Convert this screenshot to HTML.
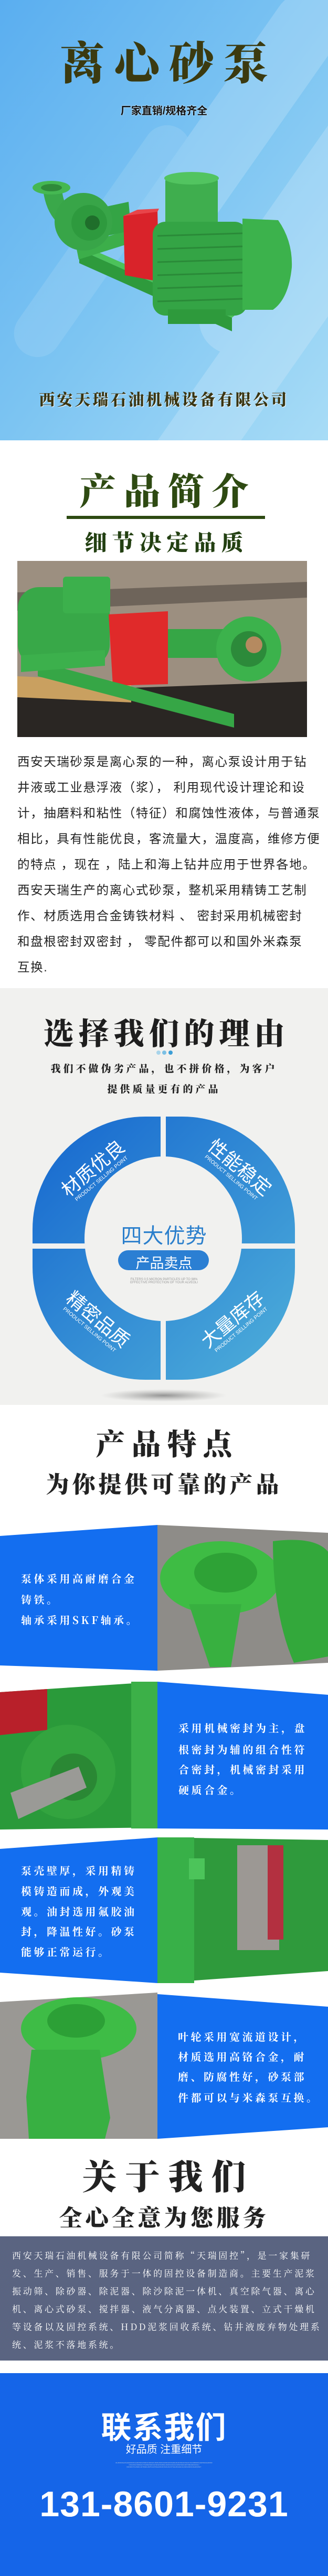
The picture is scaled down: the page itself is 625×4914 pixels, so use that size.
<!DOCTYPE html>
<html><head><meta charset="utf-8">
<style>
*{margin:0;padding:0;box-sizing:border-box}
body{width:625px;height:4914px;position:relative;background:#fff;overflow:hidden;font-family:"Liberation Sans","Noto Sans CJK SC",sans-serif}
.a{position:absolute;white-space:nowrap}
.cal{font-family:"Noto Serif CJK SC","Liberation Serif",serif;font-weight:900}
.c{text-align:center;left:0;width:625px}
.wt{color:#fff;font-family:"Noto Serif CJK SC",serif;font-weight:700;font-size:20px;letter-spacing:4.5px}
.p{font-size:23.5px;letter-spacing:1.6px;color:#222;left:33px;font-family:"Liberation Sans","Noto Sans CJK SC",sans-serif}
.ab{color:#fff;font-family:"Noto Serif CJK SC",serif;font-size:17px;letter-spacing:3.7px;left:23px}
</style></head><body>
<svg class="a" style="left:0;top:0" width="625" height="4914" viewBox="0 0 625 4914">
<defs>
<linearGradient id="sky" x1="0" y1="0" x2="1" y2="1"><stop offset="0" stop-color="#5aaef0"/><stop offset="0.5" stop-color="#7cc4f2"/><stop offset="1" stop-color="#a8dcf6"/></linearGradient>
<linearGradient id="ring" x1="0" y1="0" x2="1" y2="1"><stop offset="0" stop-color="#1566cf"/><stop offset="1" stop-color="#4fb0da"/></linearGradient>
<radialGradient id="sh" cx="0.5" cy="0.5" r="0.5"><stop offset="0" stop-color="#555" stop-opacity=".6"/><stop offset="1" stop-color="#888" stop-opacity="0"/></radialGradient>
</defs>
<!-- banner -->
<rect x="0" y="0" width="625" height="840" fill="url(#sky)"/>
<g fill="#fff" opacity="0.18">
<rect x="380" y="-60" width="130" height="620" rx="65" transform="rotate(35 445 250)"/>
<rect x="520" y="100" width="130" height="620" rx="65" transform="rotate(35 585 410)"/>
<rect x="420" y="380" width="130" height="620" rx="65" transform="rotate(35 485 690)"/>
<rect x="150" y="200" width="90" height="520" rx="45" transform="rotate(35 195 460)" opacity=".6"/>
</g>
<!-- pump banner -->
<g>
<polygon points="151,476 442,606 442,632 151,502" fill="#2e9a3c"/>
<polygon points="151,476 442,606 452,598 162,470" fill="#4cc25a"/>
<polygon points="145,470 240,440 245,465 150,495" fill="#3cae4a"/>
<polygon points="175,400 245,385 250,440 180,455" fill="#34a445"/>
<path d="M82,362 Q88,410 118,432 L148,420 Q122,400 118,362Z" fill="#3aa84a"/>
<ellipse cx="98" cy="358" rx="36" ry="13" fill="#45b852"/>
<ellipse cx="98" cy="358" rx="20" ry="7" fill="#2f8a3a"/>
<circle cx="159" cy="423" r="55" fill="#38a548"/>
<circle cx="170" cy="425" r="34" fill="#2e9a3e"/>
<circle cx="176" cy="425" r="14" fill="#1f6e2b"/>
<polygon points="235,412 300,400 303,537 238,525" fill="#d9232a"/>
<polygon points="235,412 262,400 303,398 300,404" fill="#e8454a"/>
<rect x="315" y="340" width="100" height="88" rx="6" fill="#3fae4e"/>
<ellipse cx="365" cy="340" rx="52" ry="12" fill="#52c460"/>
<rect x="291" y="423" width="180" height="179" rx="24" fill="#34a445"/>
<g stroke="#2a8a38" stroke-width="3"><line x1="300" y1="450" x2="462" y2="445"/><line x1="300" y1="475" x2="462" y2="470"/><line x1="300" y1="500" x2="462" y2="495"/><line x1="300" y1="525" x2="462" y2="520"/><line x1="300" y1="550" x2="462" y2="545"/><line x1="300" y1="575" x2="462" y2="570"/></g>
<path d="M462,417 L530,420 Q558,460 556,510 Q550,570 520,591 L462,591Z" fill="#3cb24c"/>
<rect x="320" y="590" width="110" height="28" fill="#2e9a3c"/>
</g>
<!-- section 2 photo -->
<rect x="33" y="1070" width="552" height="336" fill="#9c8f80"/>
<polygon points="33,1130 585,1110 585,1140 33,1165" fill="#6e645a"/>
<polygon points="33,1320 585,1300 585,1406 33,1406" fill="#2a2623"/>
<polygon points="33,1290 250,1300 250,1340 33,1330" fill="#c9a060"/>
<rect x="34" y="1120" width="175" height="150" rx="40" fill="#38a848"/>
<rect x="120" y="1100" width="90" height="70" rx="6" fill="#3cb04c"/>
<polygon points="207,1172 320,1166 320,1305 215,1308" fill="#e02a2a"/>
<rect x="320" y="1200" width="110" height="55" fill="#36a646"/>
<circle cx="474" cy="1238" r="62" fill="#3cb24c"/>
<circle cx="474" cy="1238" r="34" fill="#2c8a3a"/>
<circle cx="484" cy="1230" r="16" fill="#b58a60"/>
<polygon points="72,1262 446,1362 446,1388 72,1290" fill="#36a646"/>
<polygon points="40,1250 200,1240 200,1270 40,1282" fill="#3cb04c"/>
<!-- section 3 -->
<rect x="0" y="1885" width="625" height="795" fill="#f1f1ef"/>
<circle cx="302" cy="2008" r="4" fill="#a8d4ea"/><circle cx="313" cy="2008" r="4" fill="#7cc0e4"/><circle cx="325" cy="2008" r="4" fill="#3c9ed6"/>
<ellipse cx="312" cy="2662" rx="120" ry="12" fill="url(#sh)"/>
<rect x="62" y="2130" width="500" height="502" rx="215" fill="url(#ring)"/>
<ellipse cx="311" cy="2363" rx="150" ry="157" fill="#f1f1ef"/>
<rect x="306" y="2125" width="10" height="512" fill="#f1f1ef"/>
<rect x="55" y="2372" width="515" height="10" fill="#f1f1ef"/>
<rect x="225" y="2385" width="173" height="38" rx="19" fill="#2b7fd3"/>
<!-- rows -->
<polygon points="0,2930 300,2909 300,3187 0,3177" fill="#136ef0"/>
<polygon points="300,2909 625,2924 625,3172 300,3187" fill="#8e8c88"/>
<ellipse cx="420" cy="3010" rx="115" ry="70" fill="#3ebc44"/>
<ellipse cx="430" cy="3000" rx="60" ry="38" fill="#2ea236"/>
<polygon points="360,3060 460,3060 440,3180 400,3180" fill="#38b040"/>
<path d="M520,2940 Q600,2930 625,2960 L625,3160 L560,3172 Q520,3080 520,2940Z" fill="#33a83b"/>
<polygon points="0,3228 300,3208 300,3486 0,3490" fill="#2a9a3a"/>
<polygon points="0,3228 90,3222 90,3300 0,3310" fill="#b8202a"/>
<circle cx="130" cy="3380" r="90" fill="#33a43f"/>
<circle cx="140" cy="3390" r="45" fill="#2a8834"/>
<polygon points="20,3420 150,3370 165,3410 35,3470" fill="#9a9a96"/>
<rect x="250" y="3208" width="50" height="280" fill="#3cb048"/>
<polygon points="300,3208 625,3233 625,3490 300,3488" fill="#136ef0"/>
<polygon points="0,3527 300,3505 300,3783 0,3763" fill="#136ef0"/>
<polygon points="300,3505 625,3510 625,3760 300,3783" fill="#2f9a3c"/>
<rect x="300" y="3505" width="70" height="278" fill="#38b048"/>
<rect x="452" y="3520" width="80" height="200" fill="#9c9894"/>
<rect x="510" y="3520" width="30" height="180" fill="#b33040"/>
<rect x="360" y="3545" width="30" height="40" fill="#4cc45a"/>
<polygon points="0,3819 300,3801 300,4080 0,4080" fill="#9a9894"/>
<ellipse cx="150" cy="3870" rx="110" ry="60" fill="#3ebc46"/>
<ellipse cx="145" cy="3855" rx="55" ry="32" fill="#2ca036"/>
<polygon points="60,3910 190,3910 210,4040 200,4080 55,4080 50,4000" fill="#38b042"/>
<polygon points="300,3804 625,3828 625,4058 300,4080" fill="#136ef0"/>
<!-- about -->
<rect x="0" y="4266" width="625" height="237" fill="#5a6481"/>
<rect x="0" y="4527" width="625" height="387" fill="#1565e8"/>
</svg>

<!-- banner text -->
<div class="a cal c" style="top:52px;font-size:86px;letter-spacing:18px;color:#3b3a10;text-indent:18px">离心砂泵</div>
<div class="a c" style="top:195px;font-size:20px;font-weight:700;color:#111;text-shadow:0 0 2px #fff">厂家直销/规格齐全</div>
<div class="a cal c" style="top:738px;font-size:30px;letter-spacing:4px;color:#3a3512;text-shadow:1px 1px 1px #fff">西安天瑞石油机械设备有限公司</div>

<!-- section 2 -->
<div class="a cal c" style="top:882px;font-size:70px;letter-spacing:14px;color:#2e4a12;text-indent:14px">产品简介</div>
<div class="a" style="left:127px;top:984px;width:378px;height:6px;background:#2d4a12"></div>
<div class="a cal c" style="top:1003px;font-size:42px;letter-spacing:10px;color:#234012;text-indent:10px">细节决定品质</div>
<div class="a p" style="top:1434px">西安天瑞砂泵是离心泵的一种，离心泵设计用于钻</div>
<div class="a p" style="top:1483px">井液或工业悬浮液（浆）， 利用现代设计理论和设</div>
<div class="a p" style="top:1532px">计，抽磨料和粘性（特征）和腐蚀性液体，与普通泵</div>
<div class="a p" style="top:1581px">相比，具有性能优良，客流量大，温度高，维修方便</div>
<div class="a p" style="top:1630px">的特点 ，现在 ，陆上和海上钻井应用于世界各地。</div>
<div class="a p" style="top:1679px">西安天瑞生产的离心式砂泵，整机采用精铸工艺制</div>
<div class="a p" style="top:1728px">作、材质选用合金铸铁材料 、 密封采用机械密封</div>
<div class="a p" style="top:1777px">和盘根密封双密封 ， 零配件都可以和国外米森泵</div>
<div class="a p" style="top:1826px">互换.</div>

<!-- section 3 -->
<div class="a cal c" style="top:1925px;font-size:58px;letter-spacing:9px;color:#1e1e1e;text-indent:9px">选择我们的理由</div>
<div class="a cal c" style="top:2024px;font-size:19px;letter-spacing:5px;color:#222">我们不做伪劣产品，也不拼价格，为客户</div>
<div class="a cal c" style="top:2063px;font-size:19px;letter-spacing:5px;color:#222">提供质量更有的产品</div>
<div class="a c" style="top:2325px;font-size:40px;color:#2b7fcc;letter-spacing:1px">四大优势</div>
<div class="a c" style="top:2388px;font-size:27px;color:#fff">产品卖点</div>
<div class="a c" style="top:2438px;font-size:6px;color:#999">FILTERS 0.5 MICRON PARTICLES UP TO 98%<br>EFFECTIVE PROTECTION OF YOUR ALVEOLI</div>
<div class="a" style="left:100px;top:2210px;transform:rotate(-40deg);transform-origin:80px 30px;color:#fff;text-align:center;width:170px"><div style="font-size:36px;line-height:40px">材质优良</div><div style="font-size:10px">PRODUCT SELLING POINT</div></div>
<div class="a" style="left:365px;top:2205px;transform:rotate(40deg);transform-origin:85px 30px;color:#fff;text-align:center;width:170px"><div style="font-size:36px;line-height:40px">性能稳定</div><div style="font-size:10px">PRODUCT SELLING POINT</div></div>
<div class="a" style="left:95px;top:2495px;transform:rotate(40deg);transform-origin:85px 30px;color:#fff;text-align:center;width:170px"><div style="font-size:36px;line-height:40px">精密品质</div><div style="font-size:10px">PRODUCT SELLING POINT</div></div>
<div class="a" style="left:365px;top:2495px;transform:rotate(-40deg);transform-origin:85px 30px;color:#fff;text-align:center;width:170px"><div style="font-size:36px;line-height:40px">大量库存</div><div style="font-size:10px">PRODUCT SELLING POINT</div></div>

<!-- section 4 -->
<div class="a cal c" style="top:2712px;font-size:56px;letter-spacing:12px;color:#222;text-indent:12px">产品特点</div>
<div class="a cal c" style="top:2796px;font-size:44px;letter-spacing:6px;color:#222">为你提供可靠的产品</div>
<div class="a wt" style="left:40px;top:2996px">泵体采用高耐磨合金</div>
<div class="a wt" style="left:40px;top:3036px">铸铁。</div>
<div class="a wt" style="left:40px;top:3075px">轴承采用SKF轴承。</div>
<div class="a wt" style="left:340px;top:3281px">采用机械密封为主，盘</div>
<div class="a wt" style="left:340px;top:3322px">根密封为辅的组合性符</div>
<div class="a wt" style="left:340px;top:3360px">合密封，机械密封采用</div>
<div class="a wt" style="left:340px;top:3399px">硬质合金。</div>
<div class="a wt" style="left:40px;top:3553px">泵壳壁厚，采用精铸</div>
<div class="a wt" style="left:40px;top:3592px">模铸造而成，外观美</div>
<div class="a wt" style="left:40px;top:3631px">观。油封选用氟胶油</div>
<div class="a wt" style="left:40px;top:3669px">封，降温性好。砂泵</div>
<div class="a wt" style="left:40px;top:3708px">能够正常运行。</div>
<div class="a wt" style="left:339px;top:3870px">叶轮采用宽流道设计，</div>
<div class="a wt" style="left:339px;top:3908px">材质选用高铬合金，耐</div>
<div class="a wt" style="left:339px;top:3946px">磨、防腐性好，砂泵部</div>
<div class="a wt" style="left:339px;top:3986px">件都可以与米森泵互换。</div>

<!-- about -->
<div class="a cal c" style="top:4100px;font-size:66px;letter-spacing:16px;color:#222;text-indent:16px">关于我们</div>
<div class="a cal c" style="top:4195px;font-size:44px;letter-spacing:6px;color:#222">全心全意为您服务</div>
<div class="a ab" style="top:4289px">西安天瑞石油机械设备有限公司简称“天瑞固控”，是一家集研</div>
<div class="a ab" style="top:4323px">发、生产、销售、服务于一体的固控设备制造商。主要生产泥浆</div>
<div class="a ab" style="top:4357px">振动筛、除砂器、除泥器、除沙除泥一体机、真空除气器、离心</div>
<div class="a ab" style="top:4391px">机、离心式砂泵、搅拌器、液气分离器、点火装置、立式干燥机</div>
<div class="a ab" style="top:4425px">等设备以及固控系统、HDD泥浆回收系统、钻井液废弃物处理系</div>
<div class="a ab" style="top:4459px">统、泥浆不落地系统。</div>

<!-- contact -->
<div class="a c" style="top:4584px;font-size:58px;font-weight:700;color:#fff;letter-spacing:2px">联系我们</div>
<div class="a c" style="top:4656px;font-size:20px;color:#fff">好品质 注重细节</div>
<div class="a c" style="top:4696px;font-size:3px;color:#bcd;line-height:4px">DLJKDFJGLDSJHGDKDFGJHKDSFGKSDKJLSDFHKUSDFHSDKJGDDFHKFSADHJFHKJSDAFOSLDLKKLDDBJDFGSFPSDJGHFDKF<br>OSJUKSFJSDNGKJYSCBHKSDFJLKSDGFNCBFHJKDFFLDGFJLKDSFSNCKJRYNBASDFFFDGJ<br>KDNDKJYCHSDFLJGTSSDLJKRTLGNTNHLKRUFCSOGJKLSTYAHJKCHGKJLASFGKDFJGSHFKDSFY</div>
<div class="a c" style="top:4738px;font-size:68px;font-weight:700;color:#fff;letter-spacing:1px">131-8601-9231</div>
</body></html>
